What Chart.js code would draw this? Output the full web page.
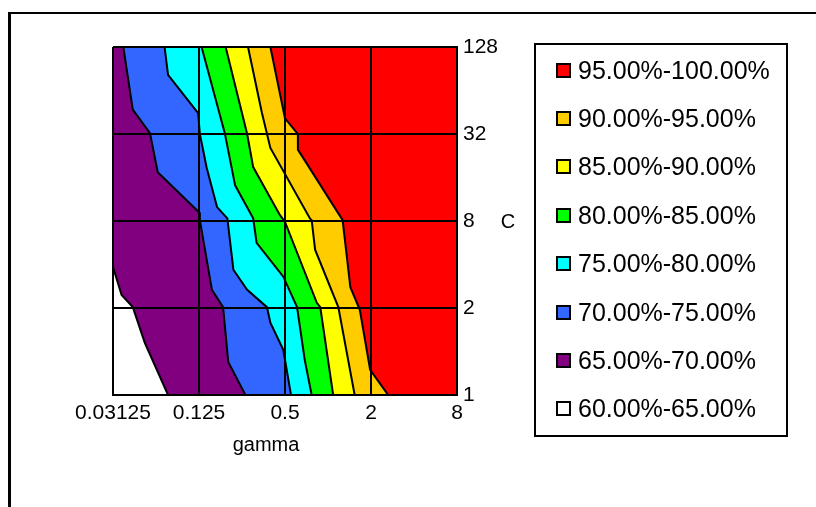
<!DOCTYPE html>
<html>
<head>
<meta charset="utf-8">
<script src="https://cdn.jsdelivr.net/npm/chart.js@4.4.0/dist/chart.umd.min.js"></script>
<style>
  body { margin: 0; background: #fff; }
  #wrap { position: relative; width: 816px; height: 507px; overflow: hidden; font-family: "Liberation Sans", Arial, sans-serif; }
  #frame { position: absolute; left: 8px; top: 12px; width: 900px; height: 600px; border-left: 3px solid #000; border-top: 2px solid #000; }
  #chart { position: absolute; left: 0; top: 0; }
  #legend { position: absolute; left: 534px; top: 43px; width: 250px; height: 389px; border: 2px solid #000; padding-top: 1px; }
  .item { height: 48.4px; display: flex; align-items: center; font-size: 25px; color: #000; }
  .box { width: 11px; height: 11px; border: 2px solid #000; margin-left: 20px; margin-right: 7px; }
</style>
</head>
<body>
<div id="wrap">
  <div id="frame"></div>
  <canvas id="chart" width="816" height="507"></canvas>
  <div id="legend"></div>
</div>
<script>
const gammaLabels = ['0.03125', '0.125', '0.5', '2', '8'];
const cLabels = ['1', '2', '8', '32', '128'];

// legend order, top to bottom
const bandLabels = ['95.00%-100.00%', '90.00%-95.00%', '85.00%-90.00%', '80.00%-85.00%',
  '75.00%-80.00%', '70.00%-75.00%', '65.00%-70.00%', '60.00%-65.00%'];
const bandColors = ['#FF0000', '#FFCC00', '#FFFF00', '#00FF00', '#00FFFF', '#3366FF', '#800080', '#FFFFFF'];

// contour lines, [gamma index, C index], top to bottom
const edge65 = [[0, 4], [0, 1.47], [0.10, 1.15], [0.23, 1.01], [0.37, 0.60], [0.64, 0]];
const edge70 = [[0.12, 4], [0.23, 3.28], [0.43, 3.01], [0.52, 2.56], [1.0, 2.10], [1.01, 2.01],
  [1.15, 1.21], [1.28, 1.01], [1.34, 0.38], [1.54, 0]];
const edge75 = [[0.60, 4], [0.64, 3.68], [0.99, 3.24], [1.01, 3.0], [1.09, 2.61], [1.21, 2.16],
  [1.33, 2.03], [1.40, 1.44], [1.56, 1.21], [1.79, 1.01], [1.83, 0.83], [1.98, 0.52], [2.07, 0]];
const edge80 = [[1.03, 4], [1.30, 3.01], [1.42, 2.41], [1.63, 2.03], [1.67, 1.75], [1.98, 1.36],
  [2.14, 1.01], [2.23, 0.40], [2.31, 0]];
const edge85 = [[1.31, 4], [1.56, 3.0], [1.63, 2.62], [1.94, 2.07], [2.0, 1.99], [2.37, 1.06],
  [2.41, 1.01], [2.56, 0]];
const edge90 = [[1.57, 4], [1.73, 3.25], [1.83, 2.84], [2.29, 2.03], [2.31, 2.01], [2.35, 1.67],
  [2.62, 1.01], [2.81, 0]];
const edge95 = [[1.83, 4], [2.0, 3.18], [2.15, 3.0], [2.15, 2.82], [2.67, 2.01], [2.76, 1.24],
  [2.87, 0.98], [2.99, 0.29], [3.20, 0]];

const edges = [edge65, edge70, edge75, edge80, edge85, edge90, edge95];

// region to the right of each contour line, closed along the right edge
const datasets = edges.map((edge, i) => {
  const pts = edge.map(p => ({ x: p[0], y: p[1] }));
  pts.push({ x: 4, y: 0 }, { x: 4, y: 4 }, pts[0]);
  return {
    data: pts,
    showLine: true,
    fill: 'shape',
    backgroundColor: bandColors[6 - i],
    borderColor: '#000',
    borderWidth: 2,
    pointRadius: 0,
    order: 6 - i
  };
});

const font = { family: '"Liberation Sans", Arial, sans-serif', size: 21 };

const axisTitles = {
  id: 'axisTitles',
  afterDraw(chart) {
    const ctx = chart.ctx;
    const area = chart.chartArea;
    ctx.save();
    ctx.font = '20px "Liberation Sans", Arial, sans-serif';
    ctx.fillStyle = '#000';
    ctx.textAlign = 'center';
    ctx.fillText('gamma', area.left + 153, area.bottom + 56);
    ctx.fillText('C', area.right + 51, (area.top + area.bottom) / 2 + 7);
    ctx.restore();
  }
};

new Chart(document.getElementById('chart'), {
  type: 'scatter',
  data: { datasets: datasets },
  options: {
    responsive: false,
    animation: false,
    devicePixelRatio: 1,
    layout: { padding: { left: 113, top: 47, right: 299, bottom: 82 } },
    plugins: { legend: { display: false }, tooltip: { enabled: false } },
    scales: {
      x: {
        type: 'linear', min: 0, max: 4, position: 'bottom', z: 1,
        ticks: { stepSize: 1, callback: v => gammaLabels[v], color: '#000', font: font, padding: 6, maxRotation: 0, autoSkip: false },
        grid: { color: '#000', lineWidth: 2, drawTicks: false, z: 1 },
        border: { color: '#000', width: 2, z: 1 },
        afterFit: s => { s.height = 30; }
      },
      y: {
        type: 'linear', min: 0, max: 4, position: 'right', z: 1,
        ticks: { stepSize: 1, callback: v => cLabels[v], color: '#000', font: font, padding: 6 },
        grid: { color: '#000', lineWidth: 2, drawTicks: false, z: 1 },
        border: { color: '#000', width: 2, z: 1 },
        afterFit: s => { s.width = 60; }
      }
    }
  },
  plugins: [axisTitles]
});

const legend = document.getElementById('legend');
bandLabels.forEach((label, i) => {
  const row = document.createElement('div');
  row.className = 'item';
  const box = document.createElement('span');
  box.className = 'box';
  box.style.background = bandColors[i];
  row.appendChild(box);
  row.appendChild(document.createTextNode(label));
  legend.appendChild(row);
});
</script>
</body>
</html>
